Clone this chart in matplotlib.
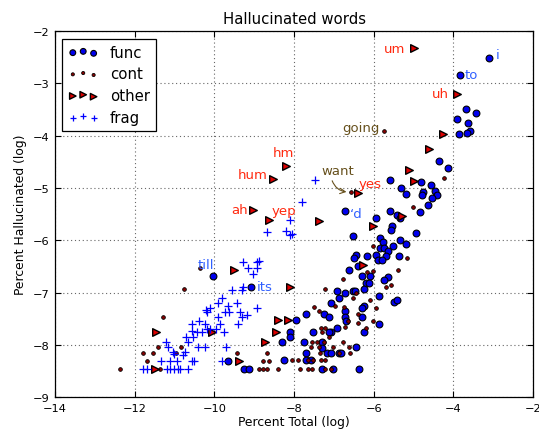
import matplotlib
matplotlib.use('Agg')
import matplotlib.pyplot as plt

# values (log percent total, log percent hallucinated)
func_x = [-3.11, -3.84, -3.69, -3.43, -3.91, -3.64, -3.58, -3.66, -3.86, -4.36,
          -4.14, -5.60, -5.32, -4.82, -4.57, -4.47, -4.42, -4.77, -4.79, -5.19,
          -4.54, -4.64, -5.60, -5.42, -4.84, -6.73, -5.95, -5.35, -5.55, -5.57,
          -4.94, -6.53, -5.85, -5.77, -5.35, -5.19, -5.52, -5.85, -5.75, -5.65,
          -6.45, -6.50, -6.18, -5.95, -5.70, -5.37, -5.90, -5.80, -6.63, -6.40,
          -6.30, -6.10, -5.65, -5.75, -6.20, -6.13, -6.25, -6.91, -6.73, -6.53,
          -6.48, -6.86, -5.87, -6.25, -6.30, -5.50, -5.42, -7.06, -7.69, -7.26,
          -7.11, -6.73, -6.73, -6.70, -6.30, -5.87, -7.94, -6.93, -7.06, -7.11,
          -7.53, -6.25, -8.09, -8.11, -8.31, -7.74, -7.31, -6.45, -7.31, -7.71,
          -7.18, -7.06, -6.86, -6.81, -8.26, -7.71, -7.58, -7.31, -7.01, -6.38,
          -9.65, -9.25, -9.12, -10.03, -9.07]
func_y = [-2.52, -2.84, -3.49, -3.57, -3.68, -3.76, -3.91, -3.95, -3.97, -4.49,
          -4.62, -4.85, -5.00, -4.89, -4.94, -5.06, -5.14, -5.08, -5.14, -5.12,
          -5.19, -5.33, -5.44, -5.52, -5.46, -5.44, -5.58, -5.58, -5.73, -5.80,
          -5.86, -5.92, -5.96, -6.03, -6.00, -6.07, -6.11, -6.15, -6.15, -6.21,
          -6.28, -6.34, -6.30, -6.28, -6.30, -6.30, -6.38, -6.38, -6.57, -6.49,
          -6.68, -6.68, -6.70, -6.76, -6.82, -6.82, -6.93, -6.97, -7.01, -6.97,
          -6.97, -7.11, -7.07, -7.26, -7.30, -7.18, -7.14, -7.20, -7.41, -7.41,
          -7.47, -7.35, -7.47, -7.54, -7.47, -7.60, -7.53, -7.68, -7.76, -7.76,
          -7.76, -7.76, -7.76, -7.85, -7.95, -7.95, -7.95, -8.04, -8.06, -8.16,
          -8.16, -8.16, -8.16, -8.16, -8.29, -8.29, -8.29, -8.46, -8.46, -8.46,
          -8.31, -8.46, -8.46, -6.68, -6.89]

cont_x = [-12.36, -11.79, -11.53, -11.41, -11.69, -11.36, -11.28, -10.83, -10.96, -10.75,
          -10.35, -9.42, -8.67, -8.79, -8.64, -8.89, -8.79, -8.69, -8.39, -8.06,
          -7.89, -7.86, -7.64, -7.56, -7.23, -7.08, -7.64, -7.53, -7.33, -7.23,
          -7.36, -6.88, -6.60, -7.58, -7.38, -7.03, -6.63, -7.56, -7.43, -7.26,
          -6.78, -7.11, -7.31, -7.33, -7.23, -6.73, -6.20, -6.65, -6.40, -6.03,
          -6.40, -5.95, -6.10, -6.53, -6.98, -7.51, -7.38, -7.23, -6.78, -5.57,
          -5.70, -6.45, -6.75, -6.18, -6.03, -5.40, -5.17, -6.03, -5.02, -4.24,
          -5.75, -6.58]
cont_y = [-8.46, -8.16, -8.16, -8.04, -8.31, -8.46, -7.47, -8.04, -8.16, -6.93,
          -6.53, -8.16, -8.16, -8.31, -8.31, -8.46, -8.46, -8.46, -8.46, -8.29,
          -8.29, -8.46, -8.46, -8.46, -8.46, -8.46, -8.29, -8.29, -8.29, -8.29,
          -8.16, -8.16, -8.16, -8.04, -8.04, -8.04, -8.04, -7.95, -7.95, -7.95,
          -7.95, -7.85, -7.76, -7.68, -7.68, -7.66, -7.68, -7.54, -7.58, -7.54,
          -7.41, -7.30, -7.14, -7.11, -7.26, -7.28, -7.35, -6.93, -6.74, -6.86,
          -6.89, -7.01, -7.28, -6.61, -6.59, -6.57, -6.34, -6.11, -5.37, -4.81,
          -3.91, -5.08]

other_x = [-4.99, -3.91, -4.26, -4.62, -5.12, -4.99, -5.30, -6.03, -6.40, -7.38,
           -8.21, -8.54, -9.02, -8.62, -6.28, -9.50, -8.11, -8.39, -8.16, -8.44,
           -8.74, -10.05, -11.46, -9.37, -11.48]
other_y = [-2.33, -3.20, -3.97, -4.26, -4.66, -4.87, -5.54, -5.73, -5.10, -5.63,
           -4.58, -4.83, -5.42, -5.61, -6.47, -6.57, -6.89, -7.53, -7.53, -7.76,
           -7.95, -7.76, -7.76, -8.31, -8.46]

frag_x = [-7.48, -7.79, -8.09, -8.69, -8.21, -8.11, -8.06, -9.27, -8.94, -8.87,
          -9.15, -8.92, -9.02, -9.55, -9.30, -9.27, -9.82, -10.10, -10.20, -9.92,
          -9.65, -9.42, -10.18, -9.72, -9.62, -9.35, -9.17, -8.92, -9.92, -9.87,
          -9.40, -9.30, -10.55, -10.38, -10.23, -10.55, -10.43, -10.30, -10.18, -10.10,
          -9.97, -9.75, -10.70, -10.53, -10.65, -11.21, -11.16, -10.40, -10.23, -9.70,
          -11.03, -11.01, -10.73, -10.78, -11.33, -11.11, -10.93, -10.55, -10.50, -9.80,
          -11.79, -11.69, -11.18, -11.11, -11.01, -10.91, -10.86, -10.65]
frag_y = [-4.85, -5.27, -5.61, -5.84, -5.82, -5.90, -5.88, -6.42, -6.42, -6.40,
          -6.53, -6.53, -6.65, -6.95, -6.95, -6.89, -7.11, -7.30, -7.33, -7.20,
          -7.26, -7.20, -7.37, -7.37, -7.37, -7.37, -7.43, -7.30, -7.47, -7.60,
          -7.60, -7.47, -7.60, -7.54, -7.60, -7.74, -7.76, -7.76, -7.70, -7.70,
          -7.70, -7.76, -7.85, -7.85, -7.95, -7.95, -8.04, -8.04, -8.04, -8.04,
          -8.14, -8.18, -8.14, -8.19, -8.31, -8.31, -8.31, -8.31, -8.31, -8.31,
          -8.46, -8.46, -8.46, -8.46, -8.46, -8.46, -8.46, -8.46]

# annotated words: text, text position, alignment, colour
RED = '#ff2a10'
BLUE = '#3060ff'
BROWN = '#66501c'
words = [
    ('um', -5.20, -2.33, 'right', RED),
    ('i', -2.93, -2.44, 'left', BLUE),
    ('to', -3.71, -2.82, 'left', BLUE),
    ('uh', -4.11, -3.20, 'right', RED),
    ('going', -5.85, -3.84, 'right', BROWN),
    ('hm', -8.26, -4.33, 'center', RED),
    ('hum', -8.67, -4.75, 'right', RED),
    ('ah', -9.17, -5.42, 'right', RED),
    ('yep', -8.26, -5.44, 'center', RED),
    ('yes', -6.38, -4.92, 'left', RED),
    ('\u2018d', -6.60, -5.48, 'left', BLUE),
    ('till', -10.20, -6.46, 'center', BLUE),
    ('its', -8.94, -6.89, 'left', BLUE),
]

fig = plt.figure(figsize=(5.39, 4.35), dpi=100)
ax = fig.add_axes([0.102, 0.085, 0.887, 0.841])

ax.scatter(func_x, func_y, s=24, c='#0000ee', edgecolors='black', linewidths=0.8,
           label='func', zorder=3)
ax.scatter(cont_x, cont_y, s=7, c='#8b0000', edgecolors='black', linewidths=0.6,
           label='cont', zorder=3)
ax.scatter(other_x, other_y, s=30, marker='>', c='#dd0000', edgecolors='black',
           linewidths=1.0, label='other', zorder=3)
ax.scatter(frag_x, frag_y, s=26, marker='+', c='#0000ff', linewidths=0.9,
           label='frag', zorder=3)

for w, tx, ty, ha, col in words:
    ax.text(tx, ty, w, color=col, fontsize=9.5, ha=ha, va='center')

ax.annotate('want', xy=(-6.58, -5.08), xytext=(-6.91, -4.66), color=BROWN,
            fontsize=9.5, ha='center', va='center',
            arrowprops=dict(arrowstyle='->', color=BROWN, lw=0.8,
                            connectionstyle='arc3,rad=0.4',
                            relpos=(0.3, 0.0), shrinkA=1, shrinkB=3))

ax.set_xlim(-14, -2)
ax.set_ylim(-9, -2)
ax.set_xticks(range(-14, -1, 2))
ax.set_yticks(range(-9, -1))
ax.grid(True, color='#666666', linestyle=(0, (1, 2.5)), linewidth=0.8)
ax.set_axisbelow(True)
ax.tick_params(direction='in', top=True, right=True, labelsize=8.2, length=4,
               pad=4)
for sp in ax.spines.values():
    sp.set_linewidth(0.9)

ax.set_title('Hallucinated words', fontsize=10.7)
ax.set_xlabel('Percent Total (log)', fontsize=8.9, labelpad=2)
ax.set_ylabel('Percent Hallucinated (log)', fontsize=8.9)

leg = ax.legend(loc='upper left', scatterpoints=3, fontsize=10.7,
                markerscale=0.85, fancybox=False, framealpha=1,
                edgecolor='black', borderaxespad=0.5, labelspacing=0.45,
                handletextpad=0.8)
leg.get_frame().set_linewidth(0.9)

fig.savefig('out.png', dpi=100)
